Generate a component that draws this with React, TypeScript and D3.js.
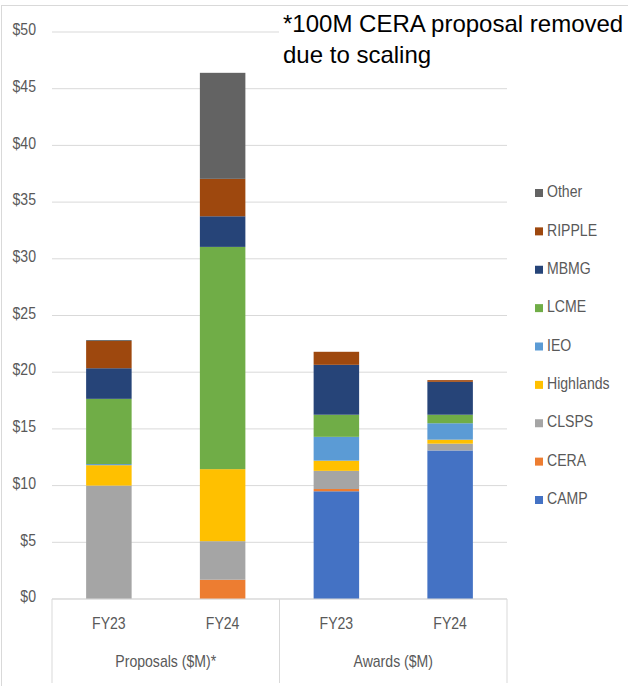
import * as d3 from "d3";

// bars, left to right
const bars = ["Proposals FY23", "Proposals FY24", "Awards FY23", "Awards FY24"];
const barYears = ["FY23", "FY24", "FY23", "FY24"];
const groups = ["Proposals ($M)*", "Awards ($M)"];

// series in stacking order (bottom to top), values in $M per bar
const series = ["CAMP", "CERA", "CLSPS", "Highlands", "IEO", "LCME", "MBMG", "RIPPLE", "Other"];
const camp = [0, 0, 9.5, 13.1];
const cera = [0, 1.7, 0.2, 0];
const clsps = [10.0, 3.4, 1.6, 0.6];
const highlands = [1.8, 6.35, 0.9, 0.35];
const ieo = [0.1, 0, 2.1, 1.45];
const lcme = [5.75, 19.6, 1.95, 0.75];
const mbmg = [2.7, 2.7, 4.4, 2.9];
const ripple = [2.4, 3.3, 1.15, 0.15];
const other = [0.08, 9.35, 0, 0];
const colors = ["#4472C4", "#ED7D31", "#A5A5A5", "#FFC000", "#5B9BD5", "#70AD47", "#264478", "#9E480E", "#636363"];

const yTicks = [0, 5, 10, 15, 20, 25, 30, 35, 40, 45, 50];
const note = ["*100M CERA proposal removed", "due to scaling"];

const W = 628;
const H = 686;
const left = 52;
const right = 507;
const top = 32;
const bottom = 599;
const grid = "#d9d9d9";
const label = "#595959";
const font = "'Liberation Sans', Arial, sans-serif";

export default function App() {
  const values = [camp, cera, clsps, highlands, ieo, lcme, mbmg, ripple, other];
  const rows = bars.map((b, i) => {
    const r: any = { bar: b };
    series.forEach((s, j) => (r[s] = values[j][i]));
    return r;
  });
  const stacked = d3.stack().keys(series)(rows);

  const x = d3.scaleBand(bars, [left, right]).paddingInner(0.6).paddingOuter(0.3);
  const y = d3.scaleLinear([0, 50], [bottom, top]);
  const color = d3.scaleOrdinal(series, colors);
  const legendY = d3.scalePoint(series.slice().reverse(), [193, 500]);
  const mid = (left + right) / 2;

  // narrow gray text, like the original's Calibri
  const gray = (tx: number, ty: number, text: string, anchor: string, key?: any) => (
    <text
      key={key}
      transform={`translate(${tx},${ty}) scale(0.88,1)`}
      textAnchor={anchor}
      dominantBaseline="middle"
      fontSize={16}
      fill={label}
    >
      {text}
    </text>
  );

  return (
    <svg width={W} height={H} style={{ position: "absolute", left: 0, top: 0, fontFamily: font }}>
      <rect width={W} height={H} fill="white" />
      <rect x={1.5} y={5.5} width={W + 20} height={H + 20} fill="none" stroke={grid} />

      {yTicks.map((t) => (
        <g key={t}>
          <line x1={left} x2={right} y1={y(t)} y2={y(t)} stroke={grid} />
          {gray(36, y(t) - 1, `$${t}`, "end")}
        </g>
      ))}

      {stacked.map((layer) => (
        <g key={layer.key} fill={color(layer.key)}>
          {layer.map((d, i) =>
            d[1] - d[0] > 0 ? (
              <rect
                key={i}
                x={x(bars[i])}
                width={x.bandwidth()}
                y={y(d[1])}
                height={y(d[0]) - y(d[1])}
              />
            ) : null
          )}
        </g>
      ))}

      {/* category axis with group separators */}
      <line x1={left} x2={right} y1={bottom} y2={bottom} stroke={grid} />
      {[left, mid, right].map((v) => (
        <line key={v} x1={v} x2={v} y1={bottom} y2={683} stroke={grid} />
      ))}
      {bars.map((b, i) => gray(x(b)! + x.bandwidth() / 2, 625, barYears[i], "middle", b))}
      {groups.map((g, i) => gray(i === 0 ? (left + mid) / 2 : (mid + right) / 2, 663, g, "middle", g))}

      {/* legend */}
      {series.map((s) => (
        <g key={s} transform={`translate(535,${legendY(s)})`}>
          <rect x={0} y={-4} width={8} height={8} fill={color(s)} />
          {gray(12, 0, s, "start")}
        </g>
      ))}

      {/* note box */}
      <rect x={279} y={9} width={W - 279} height={68} fill="white" />
      {note.map((n, i) => (
        <text key={n} x={283} y={32 + i * 31} fontSize={24} fill="#000">
          {n}
        </text>
      ))}
    </svg>
  );
}
